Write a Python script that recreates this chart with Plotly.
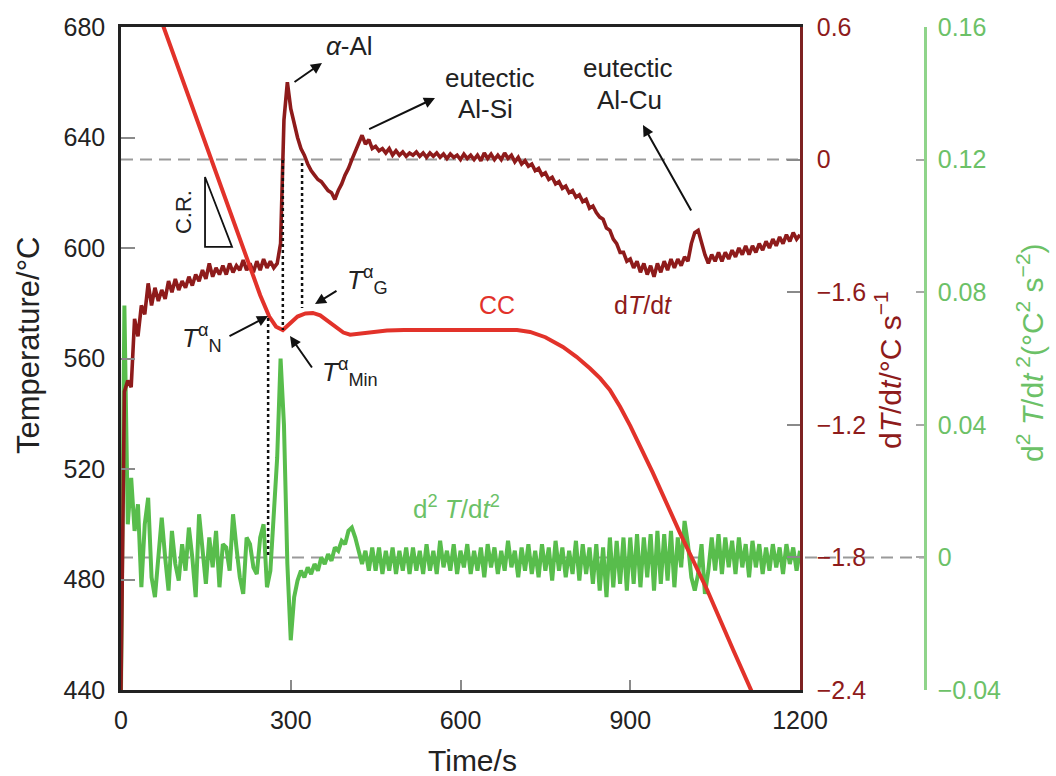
import plotly.graph_objects as go

# ---------------- data ----------------
sample_time = list(range(0, 1201, 6))  # s

dT_dt = [
    -2.40, -1.05, -1.00, -1.03, -0.72, -0.80, -0.66, -0.70, -0.56, -0.66,
    -0.58, -0.64, -0.59, -0.63, -0.55, -0.60, -0.54, -0.59, -0.55, -0.58,
    -0.53, -0.57, -0.52, -0.55, -0.50, -0.54, -0.47, -0.53, -0.49, -0.52,
    -0.48, -0.52, -0.47, -0.51, -0.48, -0.50, -0.455, -0.50, -0.47, -0.51,
    -0.46, -0.50, -0.45, -0.49, -0.46, -0.49, -0.47, -0.38, 0.18, 0.35,
    0.23, 0.16, 0.10, 0.05, 0.02, -0.02, -0.05, -0.07, -0.09, -0.10,
    -0.12, -0.14, -0.15, -0.18, -0.14, -0.11, -0.07, -0.04, 0.00, 0.04,
    0.07, 0.11, 0.07, 0.09, 0.05, 0.06, 0.04, 0.05, 0.03, 0.05,
    0.02, 0.04, 0.02, 0.035, 0.015, 0.03, 0.02, 0.035, 0.015, 0.03,
    0.01, 0.03, 0.015, 0.03, 0.01, 0.025, 0.005, 0.025, 0.01, 0.02,
    0.0, 0.025, 0.005, 0.02, 0.0, 0.02, -0.005, 0.03, 0.005, 0.025,
    0.0, 0.02, 0.0, 0.03, 0.005, 0.02, -0.01, 0.01, -0.02, -0.005,
    -0.03, -0.02, -0.05, -0.04, -0.07, -0.06, -0.09, -0.08, -0.11, -0.10,
    -0.13, -0.12, -0.15, -0.14, -0.17, -0.16, -0.19, -0.18, -0.22, -0.21,
    -0.24, -0.26, -0.27, -0.31, -0.32, -0.36, -0.38, -0.42, -0.42, -0.46,
    -0.45, -0.49, -0.46, -0.51, -0.47, -0.52, -0.48, -0.53, -0.47, -0.51,
    -0.46, -0.50, -0.45, -0.49, -0.45, -0.48, -0.44, -0.46, -0.38, -0.33,
    -0.32, -0.38, -0.43, -0.47, -0.43, -0.46, -0.42, -0.46, -0.42, -0.45,
    -0.41, -0.44, -0.40, -0.43, -0.39, -0.43, -0.39, -0.42, -0.38, -0.41,
    -0.37, -0.40, -0.36, -0.39, -0.35, -0.38, -0.34, -0.37, -0.33, -0.36,
    -0.34,
]

d2T_dt2 = [
    -0.040, 0.076, 0.010, 0.024, 0.008, 0.016, -0.009, 0.010, 0.018, -0.006,
    -0.012, 0.002, 0.012, 0.000, -0.010, 0.008, -0.002, -0.007, 0.004, -0.004,
    0.009, 0.000, -0.012, 0.013, 0.002, -0.008, 0.006, -0.003, 0.008, -0.009,
    0.004, 0.003, -0.004, 0.013, 0.003, -0.006, -0.011, 0.006, 0.004, -0.003,
    -0.005, 0.006, 0.010, -0.009, -0.004, 0.012, 0.030, 0.060, 0.040, -0.002,
    -0.025, -0.012, -0.007, -0.004, -0.006, -0.003, -0.005, -0.002, -0.004, 0.000,
    -0.002, 0.001, -0.001, 0.003, 0.002, 0.005, 0.004, 0.008, 0.009, 0.006,
    0.002, -0.002, 0.002, -0.004, 0.003, -0.004, 0.003, -0.005, 0.002, -0.004,
    0.003, -0.005, 0.002, -0.004, 0.003, -0.005, 0.003, -0.004, 0.002, -0.005,
    0.004, -0.004, 0.002, -0.005, 0.005, -0.003, 0.002, -0.004, 0.004, -0.005,
    0.002, -0.003, 0.004, -0.005, 0.002, -0.004, 0.003, -0.006, 0.004, -0.003,
    0.003, -0.005, 0.002, -0.004, 0.005, -0.003, 0.002, -0.006, 0.003, -0.004,
    0.004, -0.005, 0.002, -0.006, 0.004, -0.004, 0.003, -0.007, 0.005, -0.004,
    0.003, -0.006, 0.002, -0.005, 0.005, -0.007, 0.004, -0.005, 0.003, -0.008,
    0.004, -0.010, 0.003, -0.012, 0.006, -0.009, 0.005, -0.008, 0.006, -0.010,
    0.006, -0.008, 0.007, -0.009, 0.006, -0.006, 0.007, -0.010, 0.008, -0.008,
    0.007, -0.007, 0.008, -0.009, 0.006, -0.003, 0.011, 0.004, -0.006, -0.010,
    -0.005, 0.004, -0.011, -0.004, 0.006, -0.004, 0.007, -0.005, 0.006, -0.003,
    0.005, -0.005, 0.006, -0.003, 0.004, -0.006, 0.005, -0.003, 0.004, -0.005,
    0.003, -0.004, 0.004, -0.003, 0.003, -0.005, 0.004, -0.002, 0.003, -0.004,
    0.002,
]

cc_time = [0, 74, 246, 262, 274, 286, 298, 312, 326, 339,
           352, 366, 380, 393, 405, 420, 440, 470, 500, 600,
           700, 723, 750, 781, 805, 829, 847, 864, 882, 900,
           940, 988, 1036, 1082, 1120]
cc_temp = [722.8, 680.7, 582.9, 575.2, 571.5, 570.3, 572.6, 575.2, 576.3, 576.5,
           575.6, 573.6, 571.2, 569.4, 568.6, 568.9, 569.6, 570.1, 570.3, 570.4,
           570.3, 569.6, 567.7, 564.2, 560.6, 556.4, 552.8, 548.6, 542.5, 535.6,
           518.6, 496.8, 476.2, 454.5, 437.0]

time_ticks = [0, 300, 600, 900, 1200]
temp_ticks = [440, 480, 520, 560, 600, 640, 680]
dtdt_tickvals = [0.6, 0.0, -0.6, -1.2, -1.8, -2.4]
dtdt_ticktext = ["0.6", "0", "\u22121.6", "\u22121.2", "\u22121.8", "\u22122.4"]
d2_tickvals = [-0.04, 0.0, 0.04, 0.08, 0.12, 0.16]
d2_ticktext = ["\u22120.04", "0", "0.04", "0.08", "0.12", "0.16"]

# characteristic times (s) marked with dotted lines: (time, T_top, T_bottom)
dotted_marks = [(260, 574.7, 487.8), (286, 631.9, 570.3), (320, 630.8, 578.3)]

# ---------------- styling ----------------
W, H = 1056, 776
FONT = "Liberation Sans, Arial, Helvetica, sans-serif"
RED = "#e2322a"
DARKRED = "#8e1b1b"
GREEN = "#58bd4c"
GREEN_TXT = "#6cc167"
GREEN_AX = "#8fd48a"
BLACK = "#222222"
TICKGRAY = "#8a8a8a"

def px(x):
    return x / W

def py(y):
    return 1 - y / H

X0, X1, Y0, Y1 = 121, 800, 27, 690
dom_x = [px(X0), px(X1)]
dom_y = [py(Y1), py(Y0)]

fig = go.Figure()
fig.add_trace(go.Scatter(x=sample_time, y=d2T_dt2, yaxis="y", mode="lines",
                         line=dict(color=GREEN, width=4), hoverinfo="skip"))
fig.add_trace(go.Scatter(x=sample_time, y=dT_dt, yaxis="y2", mode="lines",
                         line=dict(color=DARKRED, width=3.6), hoverinfo="skip"))
fig.add_trace(go.Scatter(x=cc_time, y=cc_temp, yaxis="y3", mode="lines",
                         line=dict(color=RED, width=4), hoverinfo="skip"))

shapes = []
# dashed zero lines
shapes.append(dict(type="line", xref="x", yref="y2", x0=0, x1=1200, y0=0, y1=0,
                   line=dict(color="#9a9a9a", width=2, dash="12px,7px"), layer="below"))
shapes.append(dict(type="line", xref="paper", yref="y", x0=px(X0), x1=px(925), y0=0, y1=0,
                   line=dict(color="#9a9a9a", width=2, dash="12px,7px"), layer="below"))
# dotted characteristic lines
for t, ttop, tbot in dotted_marks:
    shapes.append(dict(type="line", xref="x", yref="y3", x0=t, x1=t, y0=ttop, y1=tbot,
                       line=dict(color="#111111", width=2.5, dash="dot")))
# C.R. triangle
shapes.append(dict(type="path", xref="x", yref="y3",
                   path="M 148.5 625.7 L 148.5 600.4 L 196.2 600.4 Z",
                   line=dict(color="#111111", width=1.8)))

ann = []
def text(x, y, s, size=25, color=BLACK, angle=0, xref="x", yref="y3"):
    ann.append(dict(x=x, y=y, xref=xref, yref=yref, text=s, showarrow=False,
                    textangle=angle, font=dict(family=FONT, size=size, color=color),
                    xanchor="center", yanchor="middle"))

def arrow(xh, yh, xt, yt):
    ann.append(dict(x=xh, y=yh, ax=xt, ay=yt, xref="x", yref="y3", axref="x", ayref="y3",
                    text="", showarrow=True, arrowhead=2, arrowsize=1.1, arrowwidth=2,
                    arrowcolor="#111111", standoff=0, startstandoff=0))

text(404.7, 673.1, "<i>\u03b1</i>-Al", size=26)
arrow(355.2, 667.0, 304.0, 659.7)
text(652.1, 661.5, "eutectic", size=26)
text(643.3, 650.3, "Al-Si", size=26)
arrow(554.9, 654.3, 436.0, 642.8)
text(896.0, 665.2, "eutectic", size=26)
text(899.5, 653.6, "Al-Cu", size=26)
arrow(922.5, 644.5, 1009.1, 613.0)
text(664.5, 579.4, "CC", size=25, color=RED)
text(922.5, 579.4, "d<i>T</i>/d<i>t</i>", size=25, color=DARKRED)
text(593.8, 506.2, "d<sup>2</sup> <i>T</i>/d<i>t</i><sup>2</sup>", size=26, color=GREEN_TXT)
text(143.2, 567.4, "<i>T</i><sup>\u03b1</sup><sub>N</sub>", size=26)
arrow(259.8, 575.4, 189.1, 567.8)
text(436.5, 588.4, "<i>T</i><sup>\u03b1</sup><sub>G</sub>", size=26)
arrow(342.9, 579.7, 383.5, 584.8)
text(404.7, 555.1, "<i>T</i><sup>\u03b1</sup><sub>Min</sub>", size=26)
arrow(298.7, 568.1, 339.3, 556.2)
text(109.6, 613.0, "C.R.", size=22, angle=-90)

# axis titles
text(px(472), py(760), "Time/s", size=30, xref="paper", yref="paper")
text(px(28), py(346), "Temperature/\u00b0C", size=31, angle=-90, xref="paper", yref="paper")
text(px(888), py(370), "d<i>T</i>/d<i>t</i>/\u00b0C s<sup>\u22121</sup>", size=30, angle=-90,
     color=DARKRED, xref="paper", yref="paper")
text(px(1030), py(353), "d<sup>2</sup> <i>T</i>/d<i>t</i><sup> 2</sup>(\u00b0C<sup>2</sup> s<sup>\u22122</sup>)",
     size=30, angle=-90, color=GREEN_TXT, xref="paper", yref="paper")

tickfont = dict(family=FONT, size=25, color=BLACK)

fig.update_layout(
    width=W, height=H,
    margin=dict(l=0, r=0, t=0, b=0, autoexpand=False),
    paper_bgcolor="white", plot_bgcolor="white",
    showlegend=False, hovermode=False,
    font=dict(family=FONT, color=BLACK),
    xaxis=dict(domain=dom_x, range=[0, 1200], tickvals=time_ticks, anchor="y",
               showline=True, linecolor=BLACK, linewidth=2.5, mirror=True, automargin=False,
               ticks="inside", ticklen=10, tickwidth=2, tickcolor=TICKGRAY,
               showgrid=False, zeroline=False, tickfont=tickfont, ticklabelstandoff=6),
    yaxis=dict(domain=dom_y, range=[-0.04, 0.16], anchor="free", position=px(925), side="right",
               tickvals=d2_tickvals, ticktext=d2_ticktext, automargin=False,
               showline=True, linecolor=GREEN_AX, linewidth=2.5,
               ticks="inside", ticklen=8, tickwidth=2, tickcolor="#a8a8a8",
               showgrid=False, zeroline=False,
               tickfont=dict(family=FONT, size=25, color=GREEN_TXT), ticklabelstandoff=6),
    yaxis2=dict(domain=dom_y, range=[-2.4, 0.6], overlaying="y", anchor="x", side="right",
                tickvals=dtdt_tickvals, ticktext=dtdt_ticktext, automargin=False,
                showline=True, linecolor="#7e2222", linewidth=2.5,
                ticks="inside", ticklen=13, tickwidth=2, tickcolor=TICKGRAY,
                showgrid=False, zeroline=False,
                tickfont=dict(family=FONT, size=25, color=DARKRED), ticklabelstandoff=9),
    yaxis3=dict(domain=dom_y, range=[440, 680], overlaying="y", anchor="x", side="left",
                tickvals=temp_ticks, automargin=False,
                showline=True, linecolor=BLACK, linewidth=2.5,
                ticks="inside", ticklen=14, tickwidth=2, tickcolor=TICKGRAY,
                showgrid=False, zeroline=False, tickfont=tickfont, ticklabelstandoff=8),
    shapes=shapes,
    annotations=ann,
)

fig.write_html("out.html", config={"displayModeBar": False})
